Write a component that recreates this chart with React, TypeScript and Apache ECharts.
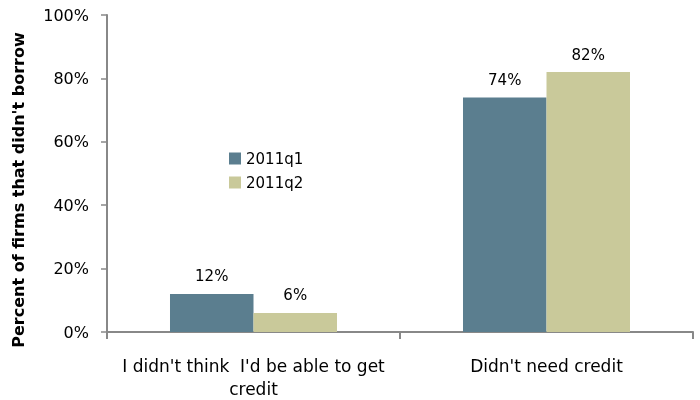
import React, { useEffect, useRef } from "react";
import * as echarts from "echarts";

const categories = ["I didn't think  I'd be able to get\ncredit", "Didn't need credit"];
const seriesNames = ["2011q1", "2011q2"];
const q1Values = [12, 74];
const q2Values = [6, 82];
const yTicks = [0, 20, 40, 60, 80, 100];
const yTitle = "Percent of firms that didn't borrow";

const FONT = "DejaVu Sans";

export default function App() {
  const ref = useRef<HTMLDivElement>(null);
  useEffect(() => {
    if (!ref.current) return;
    const chart = echarts.init(ref.current, undefined, { renderer: "svg" });
    const label = {
      show: true,
      position: "top",
      distance: 10,
      formatter: (p: any) => `${p.value}%`,
      color: "#000",
      fontFamily: FONT,
      fontSize: 15,
    };
    chart.setOption({
      animation: false,
      grid: { left: 107, right: 7, top: 15, bottom: 64 },
      legend: {
        orient: "vertical",
        left: 224,
        top: 146,
        itemWidth: 12,
        itemHeight: 12,
        itemGap: 9,
        icon: "rect",
        textStyle: { fontFamily: FONT, fontSize: 15, color: "#000" },
        data: seriesNames,
      },
      graphic: [
        {
          type: "text",
          x: 18,
          y: 190,
          rotation: Math.PI / 2,
          style: {
            text: yTitle,
            fontFamily: FONT,
            fontSize: 16,
            fontWeight: "bold",
            fill: "#000",
            textAlign: "center",
            textVerticalAlign: "middle",
          },
        },
      ],
      xAxis: {
        type: "category",
        data: categories,
        axisLine: { lineStyle: { color: "#888", width: 2 } },
        axisTick: { show: true, alignWithLabel: false, length: 7, lineStyle: { color: "#888", width: 2 } },
        axisLabel: {
          fontFamily: FONT,
          fontSize: 17,
          color: "#000",
          margin: 22,
          lineHeight: 23,
          interval: 0,
        },
      },
      yAxis: {
        type: "value",
        min: 0,
        max: 100,
        interval: 20,
        axisLine: { show: true, lineStyle: { color: "#888", width: 2 } },
        axisTick: { show: true, length: 6, lineStyle: { color: "#888", width: 1.5 } },
        splitLine: { show: false },
        axisLabel: {
          fontFamily: FONT,
          fontSize: 16,
          color: "#000",
          margin: 18,
          formatter: (v: number) => (yTicks.includes(v) ? `${v}%` : ""),
        },
      },
      series: [
        {
          name: seriesNames[0],
          type: "bar",
          data: q1Values,
          barGap: "0%",
          barCategoryGap: "43%",
          itemStyle: { color: "#5B7E8F" },
          label,
        },
        {
          name: seriesNames[1],
          type: "bar",
          data: q2Values,
          barGap: "0%",
          barCategoryGap: "43%",
          itemStyle: { color: "#C9C99A" },
          label,
        },
      ],
    });
    return () => chart.dispose();
  }, []);
  return (
    <div
      ref={ref}
      style={{ position: "fixed", left: 0, top: 0, width: 700, height: 400 }}
    />
  );
}
